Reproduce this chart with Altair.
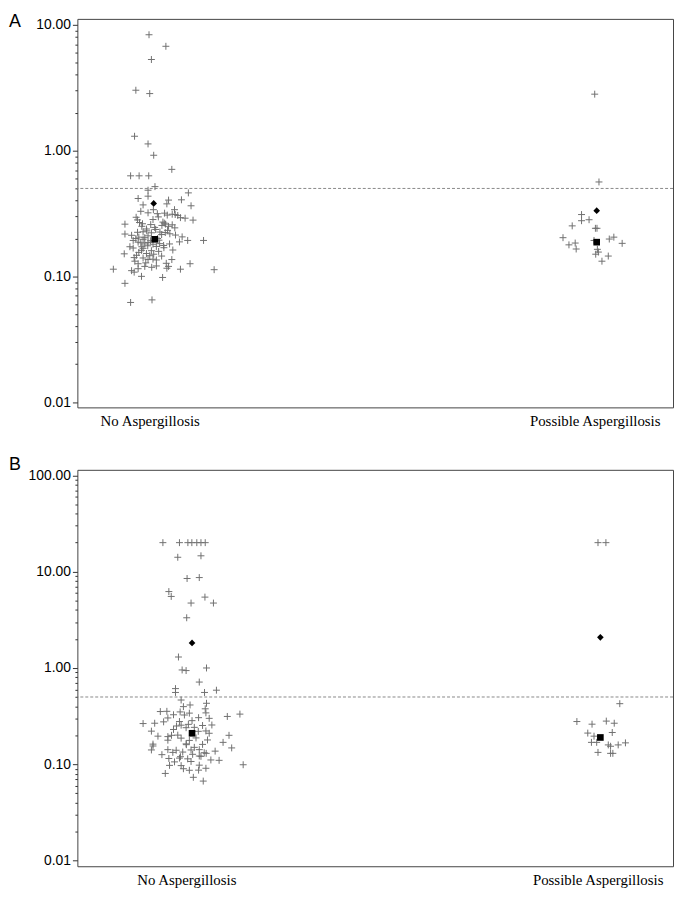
import altair as alt
import pandas as pd

CATS = ["No Aspergillosis", "Possible Aspergillosis"]

# ---------------- Panel A ----------------
A_POS = [73, 522]
A_NONE_DX = [-0.7, 16.3, 1.7, -14, 0, -15.3, -1.7, 4, 22.3, -19.3, -10.7, -1,
             5.3, -1.7, 39, -1.7, -11.7, 19, 32, 17.3, -6.7, 41.7, 3.7, 25, -9,
             -1.7, 7.7, 15, 22.7, 25.7, 17.7, 28.3, -13.7, 8.7, 31, 35.7,
             -12.3, 3.3, 43.7, -10.3, 13.3, 14.7, -25, -7.3, 1, 16, 22.7,
             12.3, 19, 25.3, -3.3, 6, -12.3, -6.7, 1.7, 10.3, 15.7, -25, 20.3,
             -18.3, -1.7, 26, -11, -5, 32.7, -6.7, -16.7, 0.7, 9.3, 38.3, 54.3,
             -11.7, -1.7, 30, -5, 3.3, 10, 20, 6.7, -16.7, -6.7, 14.3,
             -8.3, 1.7, 23.3, -25.7, -3.3, -13.3, 0, -15.7, -6.7,
             -1.7, 3.3, 6.7, 22.3, -15, -11.7, 16.7, 40.7, -5, 6.7, 19,
             -36.7, -11.7, 17.3, 31, 65, -18.3, -15.7, -8.3, 13, -25, 2.3, -19.3,
             -8, 5, -3, 12, -14, 8, -9, 14, -2, -20, 9, -11, 4, 12, -4, 2, -8, 18]
A_NONE_V = [8.34, 6.75, 5.3, 3.02, 2.84, 1.30, 1.13, 0.918, 0.709, 0.63, 0.63, 0.63,
            0.517, 0.484, 0.461, 0.434, 0.416, 0.404, 0.406, 0.377, 0.37, 0.364, 0.339, 0.339, 0.329,
            0.32, 0.315, 0.318, 0.312, 0.31, 0.307, 0.305, 0.295, 0.297, 0.293, 0.29,
            0.281, 0.283, 0.28, 0.268, 0.27, 0.265, 0.26, 0.262, 0.258, 0.26, 0.257,
            0.254, 0.25, 0.243, 0.238, 0.236, 0.224, 0.226, 0.222, 0.225, 0.223, 0.217, 0.218,
            0.212, 0.21, 0.213, 0.205, 0.203, 0.206, 0.197, 0.193, 0.192, 0.194, 0.193, 0.193,
            0.187, 0.186, 0.188, 0.181, 0.18, 0.182, 0.181, 0.173, 0.168, 0.167, 0.169,
            0.161, 0.16, 0.162, 0.151, 0.152, 0.147, 0.146, 0.141, 0.14,
            0.136, 0.137, 0.135, 0.136, 0.132, 0.126, 0.127, 0.126, 0.12, 0.121, 0.12,
            0.114, 0.115, 0.116, 0.114, 0.113, 0.111, 0.108, 0.1, 0.098, 0.088, 0.065, 0.062,
            0.25, 0.245, 0.23, 0.215, 0.2, 0.2, 0.185, 0.176, 0.175, 0.172, 0.158, 0.155,
            0.15, 0.145, 0.128, 0.118, 0.172, 0.232]
A_POSS_DX = [0, 4.3, -13.3, -13.3, -5.7, -22.7, 0.7, 2.3, -32, -0.7, 14.7, 19.3,
             27.7, -26, -19.7, -18.7, 2.7, 3.7, 1, 13.7, 7.3]
A_POSS_V = [2.81, 0.563, 0.31, 0.277, 0.282, 0.252, 0.241, 0.241, 0.203, 0.193, 0.198, 0.205,
            0.183, 0.178, 0.184, 0.165, 0.164, 0.156, 0.15, 0.145, 0.132]
A_MEAN_DX = [4, 2]
A_MEAN_V = [0.38, 0.333]
A_MEDIAN_DX = [5, 2]
A_MEDIAN_V = [0.197, 0.187]

# ---------------- Panel B ----------------
B_POS = [110, 525]
B_NONE_DX = [-23.7, -7, 1.5, 5.5, 10.5, 14.7, 19,
             -8.7, 14.7, 0.7, 13, -17.7, -15.3, 18.7, 4.7, 27.3, 0.3,
             -8, -4.3, -0.3, 20.3, 13, -11, -11, 18.3, 30.3,
             -5.3, 20.3, 3.7, -3, 19, -26.3, -19.7, -6.3, 3, 19.7,
             -13, -2, 54, 41.3, -18.7, 12.3, 23, 5.7, -23, -7, -43.7, -32,
             -5.3, 16.3, 25.7, -0.3, 8, -13, -35.3, 19.7, 23, -8.7, 43,
             -28.7, -18.7, -5.3, 9.7, -18.7, 3, 21.3, 37, -33.7, -0.3, 16.3,
             -33.7, 45.7, -35.3, -18.7, -10.3, 4.7, 13, 29, -13.7, -3.7, 18,
             -24.7, 6.3, 13, 14.7, -17.7, -7, 1.3, 24.7, 33, -12, 4.7, 57.3,
             -17, -5.3, 13, -3, 19.7, 3, 12.3, -21.3, 7, 17,
             -10, 2, 12, -15, 0, 8, -6, 20]
B_NONE_V = [20, 20, 20, 20, 20, 20, 20,
            14.1, 14.6, 8.49, 8.68, 6.21, 5.53, 5.44, 4.72, 4.72, 3.32,
            1.30, 0.954, 0.94, 1.0, 0.714, 0.611, 0.557, 0.557, 0.588,
            0.465, 0.43, 0.413, 0.397, 0.377, 0.353, 0.355, 0.35, 0.34, 0.342,
            0.327, 0.325, 0.332, 0.314, 0.303, 0.305, 0.3, 0.284, 0.276, 0.278, 0.265, 0.267,
            0.255, 0.253, 0.256, 0.24, 0.242, 0.23, 0.221, 0.222, 0.21, 0.201, 0.2,
            0.196, 0.194, 0.187, 0.188, 0.178, 0.177, 0.179, 0.169, 0.162, 0.163, 0.161,
            0.155, 0.148, 0.141, 0.142, 0.14, 0.141, 0.142, 0.137, 0.133, 0.134, 0.132,
            0.126, 0.127, 0.122, 0.121, 0.115, 0.116, 0.114, 0.111, 0.11, 0.106, 0.107, 0.099,
            0.0975, 0.097, 0.098, 0.09, 0.091, 0.0867, 0.087, 0.0804, 0.0733, 0.067,
            0.25, 0.26, 0.22, 0.2, 0.16, 0.15, 0.12, 0.13]
B_POSS_DX = [0.3, 8.3, 22.3, -21, -5.7, 8.7, 16.7, -10, -3.7, 14.7, -6.3, -1,
             10.7, 13, 20.7, 28, 0.3, 13, 15.3]
B_POSS_V = [20, 20, 0.426, 0.278, 0.261, 0.281, 0.267, 0.211, 0.196, 0.214, 0.169, 0.169,
            0.159, 0.154, 0.159, 0.167, 0.133, 0.13, 0.13]
B_MEAN_DX = [5.7, 2.7]
B_MEAN_V = [1.82, 2.08]
B_MEDIAN_DX = [5.7, 2.7]
B_MEDIAN_V = [0.21, 0.19]

CUTOFF = 0.5


def build(pos, none_dx, none_v, poss_dx, poss_v):
    rows = []
    for d, v in zip(none_dx, none_v):
        rows.append({"x": pos[0] + d, "v": v})
    for d, v in zip(poss_dx, poss_v):
        rows.append({"x": pos[1] + d, "v": v})
    return pd.DataFrame(rows)


def summ(pos, dx, vals):
    return pd.DataFrame({"x": [p + d for p, d in zip(pos, dx)], "v": vals})


def major_ticks(lo_exp, hi_exp):
    return [round(10 ** k, 8) for k in range(lo_exp, hi_exp + 1)]


def minor_ticks(lo_exp, hi_exp):
    return [round(m * 10 ** k, 8) for k in range(lo_exp, hi_exp) for m in range(2, 10)]


def panel(letter, letter_dy, pos, pts, mean, median, ydom, lo, hi, height):
    xscale = alt.Scale(domain=[0, 601], nice=False, zero=False)
    yscale = alt.Scale(type="log", domain=ydom, nice=False)
    xaxis = alt.Axis(values=pos, title=None, domain=False, ticks=False, tickSize=0,
                     grid=False, labelPadding=6,
                     labelExpr=f"datum.value < 300 ? '{CATS[0]}' : '{CATS[1]}'",
                     labelFont="Liberation Serif", labelFontSize=15, labelColor="black")
    yaxis_major = alt.Axis(values=major_ticks(lo, hi), title=None, grid=False, domain=False,
                           orient="left", format=".2f", tickSize=5, tickColor="#333",
                           labelPadding=2, labelFont="Liberation Sans",
                           labelFontSize=14, labelColor="black")
    yaxis_minor = alt.Axis(values=minor_ticks(lo, hi), title=None, grid=False, domain=False,
                           orient="left", labels=False, tickSize=2.5, tickColor="#333")
    rule = alt.Chart(pd.DataFrame({"v": [CUTOFF]})).mark_rule(
        color="#888", strokeDash=[3, 2], strokeWidth=1
    ).encode(y=alt.Y("v:Q", scale=yscale, axis=yaxis_minor))
    points = alt.Chart(pts).mark_point(
        shape="M-1,0H1M0,-1V1", filled=False, size=49, color="#707070",
        strokeWidth=1, opacity=1
    ).encode(x=alt.X("x:Q", scale=xscale, axis=xaxis),
             y=alt.Y("v:Q", scale=yscale, axis=yaxis_major))
    mean_m = alt.Chart(mean).mark_point(
        shape="diamond", filled=True, size=45, color="black", opacity=1
    ).encode(x=alt.X("x:Q", scale=xscale), y=alt.Y("v:Q", scale=yscale, axis=None))
    med_m = alt.Chart(median).mark_point(
        shape="square", filled=True, size=45, color="black", opacity=1
    ).encode(x=alt.X("x:Q", scale=xscale), y=alt.Y("v:Q", scale=yscale, axis=None))
    label = alt.Chart(pd.DataFrame({"t": [letter]})).mark_text(
        align="left", baseline="top", fontSize=18, font="Liberation Sans", color="black"
    ).encode(text="t:N", x=alt.value(-69), y=alt.value(letter_dy))
    return alt.layer(rule, points, mean_m, med_m, label).resolve_axis(
        y="independent").properties(width=601, height=height)


a = panel("A", -6, A_POS, build(A_POS, A_NONE_DX, A_NONE_V, A_POSS_DX, A_POSS_V),
          summ(A_POS, A_MEAN_DX, A_MEAN_V), summ(A_POS, A_MEDIAN_DX, A_MEDIAN_V),
          [0.00908, 11.15], -2, 1, 392)
b = panel("B", -14, B_POS, build(B_POS, B_NONE_DX, B_NONE_V, B_POSS_DX, B_POSS_V),
          summ(B_POS, B_MEAN_DX, B_MEAN_V), summ(B_POS, B_MEDIAN_DX, B_MEDIAN_V),
          [0.00875, 114], -2, 2, 400)

chart = alt.vconcat(a, b, spacing=26).properties(
    padding={"left": 0, "top": 0, "right": 0, "bottom": 0}
).configure(background="white").configure_view(stroke="#444", strokeWidth=1)

chart.save("out.html", embed_options={"renderer": "svg", "actions": False})
